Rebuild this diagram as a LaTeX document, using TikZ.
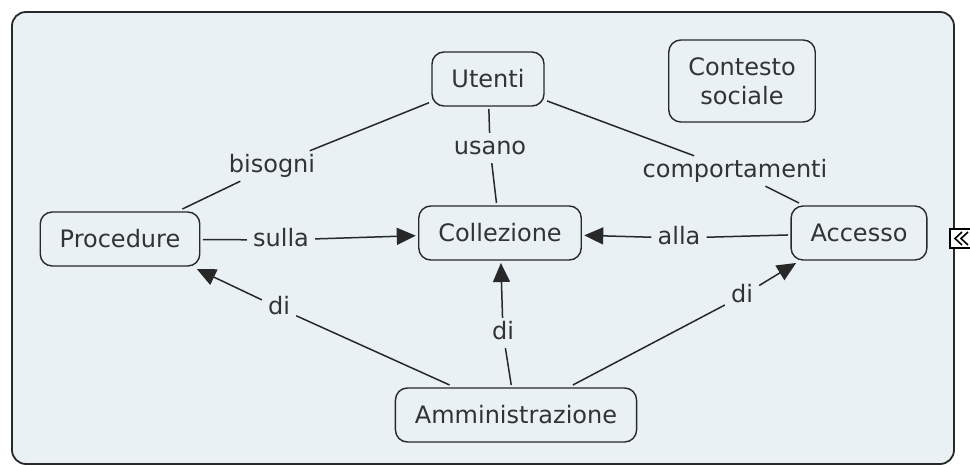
\documentclass[tikz,border=0pt]{standalone}
\usepackage{fontspec}
\setmainfont{DejaVu Sans}
\usetikzlibrary{shapes,arrows.meta,positioning}
\definecolor{mapbg}{RGB}{233,241,245}
\definecolor{ink}{RGB}{51,51,51}
\definecolor{edge}{RGB}{40,40,40}
\tikzset{basic/.style={draw=edge,fill=mapbg,line width=1.4pt,text=ink,font=\fontsize{24}{29}\selectfont}}
\tikzset{concept/.style={basic,rectangle,rounded corners=12pt,inner xsep=19.5pt,minimum height=54pt,outer sep=3pt}}
\tikzset{linkword/.style={rectangle,inner xsep=6pt,inner ysep=3pt,text height=19pt,text depth=5pt,text=ink,font=\fontsize{24}{29}\selectfont}}
\tikzset{link/.style={draw=edge,line width=1.5pt}}
\tikzset{arrowlink/.style={link,-{Triangle[length=19pt,width=17pt]}}}

\begin{document}
\begin{tikzpicture}[x=1pt,y=-1pt,node distance=4cm,auto]
    \useasboundingbox (0,0) rectangle (970,465);
    \path[draw=edge,fill=mapbg,line width=1.8pt,rounded corners=14pt] (12,12) rectangle (954,464);

    \node[concept] at (500,233) (collezione) {Collezione};
    \node[concept,left of=collezione,node distance=380pt,yshift=-6pt] (procedure) {Procedure};
    \node[concept,right of=collezione,node distance=359pt] (accesso) {Accesso};
    \node[concept,above of=collezione,node distance=154pt,xshift=-12pt] (utenti) {Utenti};
    \node[concept,below of=collezione,node distance=182pt,xshift=16pt] (amministrazione) {Amministrazione};
    \node[concept,above of=accesso,node distance=152pt,xshift=-117pt,align=center,minimum height=82pt] (contesto) {Contesto\\sociale};

     \node[linkword] at (272,166) (bisogni) {bisogni};
     \node[linkword] at (490,148) (usano) {usano};
     \node[linkword] at (735,171) (comportamenti) {comportamenti};
     \node[linkword] at (281,240) (sulla) {sulla};
     \node[linkword] at (679,238) (alla) {alla};
     \node[linkword] at (279,308) (diproc) {di};
     \node[linkword] at (503,333) (dicoll) {di};
     \node[linkword] at (742,296) (diacc) {di};

        \path[link] (utenti) -- (bisogni);
        \path[link] (bisogni) -- (procedure);
        \path[link] (utenti) -- (usano);
        \path[link] (usano) -- (collezione);
        \path[link] (utenti) -- (comportamenti);
        \path[link] (comportamenti) -- (accesso);
        \path[link] (procedure) -- (sulla);
        \path[arrowlink] (sulla) -- (collezione);
        \path[link] (accesso) -- (alla);
        \path[arrowlink] (alla) -- (collezione);
        \path[link] (amministrazione) -- (diproc);
        \path[arrowlink] (diproc) -- ([xshift=-6pt]procedure.south east);
        \path[link] (amministrazione) -- (dicoll);
        \path[arrowlink] (dicoll) -- (collezione);
        \path[link] (amministrazione) -- (diacc);
        \path[arrowlink] (diacc) -- ([xshift=8pt]accesso.south west);

    % collapse handle on the right border
    \draw[fill=white,line width=1.2pt] (950,229) rectangle (972,248);
    \draw[line width=1.6pt] (962,232) -- (955,238.5) -- (962,245) (968,232) -- (961,238.5) -- (968,245);
      \end{tikzpicture}
\end{document}
